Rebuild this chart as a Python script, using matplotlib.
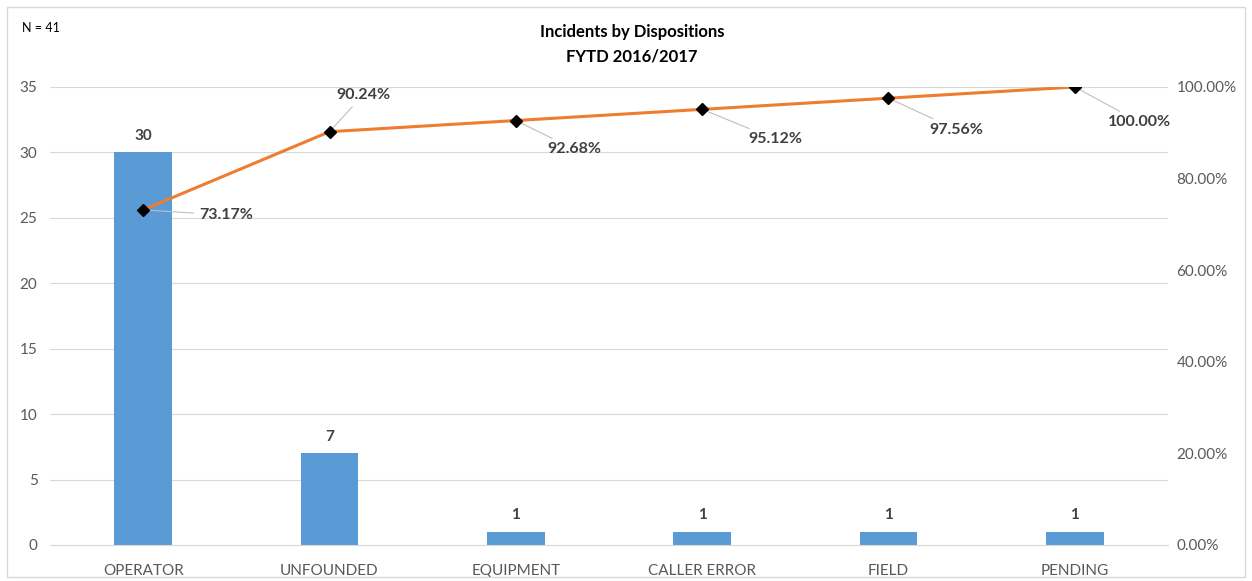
import numpy as np
import matplotlib
matplotlib.use("Agg")
import matplotlib.pyplot as plt
from matplotlib.patches import Rectangle

plt.rcParams['font.family'] = ['Lato', 'DejaVu Sans']

# Daten
kategorien = ["OPERATOR", "UNFOUNDED", "EQUIPMENT", "CALLER ERROR", "FIELD", "PENDING"]
anzahl = [30, 7, 1, 1, 1, 1]
kum_prozent = [73.17, 90.24, 92.68, 95.12, 97.56, 100.00]
links_ticks = [0, 5, 10, 15, 20, 25, 30, 35]
rechts_ticks = [0, 20, 40, 60, 80, 100]

# Label-Positionen (relativ zum Punkt, in Datenkoordinaten)
label_dx = [0.30, 0.18, 0.17, 0.25, 0.22, 0.18]
label_dy = [-0.4, 2.8, -2.2, -2.3, -2.4, -2.7]
label_ha = ["left", "center", "left", "left", "left", "left"]

grau = "#595959"
fig = plt.figure(figsize=(12.52, 5.81), dpi=100)
ax = fig.add_axes([50 / 1252, 1 - 545 / 581, 1118 / 1252, 458 / 581])

x = np.arange(len(kategorien))
ax.bar(x, anzahl, width=0.31, color="#5B9BD5", zorder=2)
for xi, v in zip(x, anzahl):
    ax.annotate(str(v), (xi, v), xytext=(0, 7), textcoords="offset points",
                ha="center", va="bottom", fontsize=11, fontweight="bold", color="#404040")

ax.set_xlim(-0.5, len(kategorien) - 0.5)
ax.set_ylim(0, 35)
ax.set_yticks(links_ticks)
ax.set_xticks(x)
ax.set_xticklabels(kategorien)
ax.tick_params(axis="both", length=0, labelsize=11, colors=grau)
ax.tick_params(axis="y", pad=9)
ax.tick_params(axis="x", pad=14)
ax.grid(axis="y", color="#D9D9D9", lw=0.8, zorder=0)
for s in ax.spines.values():
    s.set_visible(False)
ax.spines["bottom"].set_visible(True)
ax.spines["bottom"].set_color("#D9D9D9")

# zweite Achse für die kumulierten Prozent
ax2 = ax.twinx()
ax2.set_ylim(0, 100)
ax2.set_yticks(rechts_ticks)
ax2.set_yticklabels(["%.2f%%" % t for t in rechts_ticks])
ax2.tick_params(axis="y", length=0, labelsize=11, colors=grau, pad=6)
for s in ax2.spines.values():
    s.set_visible(False)

ax2.plot(x, kum_prozent, "-", color="#ED7D31", lw=2.2, zorder=3)
ax2.plot(x, kum_prozent, "D", color="black", ms=6, zorder=4)

for xi, p, dx, dy, ha in zip(x, kum_prozent, label_dx, label_dy, label_ha):
    ax2.annotate("%.2f%%" % p, (xi, p), xytext=(xi + dx, p + dy * 100 / 35),
                 ha=ha, va="center", fontsize=11.5, fontweight="bold", color="#404040",
                 arrowprops=dict(arrowstyle="-", color="#BFBFBF", lw=0.8,
                                 shrinkA=2, shrinkB=2))

fig.text(632 / 1252, 1 - 32 / 581, "Incidents by Dispositions", ha="center", va="center",
         fontsize=12, fontweight="bold", color="black")
fig.text(632 / 1252, 1 - 56 / 581, "FYTD 2016/2017", ha="center", va="center",
         fontsize=12, fontweight="bold", color="black")
fig.text(22 / 1252, 1 - 28 / 581, "N = 41", ha="left", va="center", fontsize=9, color="black")

fig.patches.append(Rectangle((7 / 1252, 4 / 581), 1238 / 1252, 570 / 581,
                             transform=fig.transFigure, fill=False, edgecolor="#D9D9D9", lw=1))

fig.savefig("out.png", dpi=100)
